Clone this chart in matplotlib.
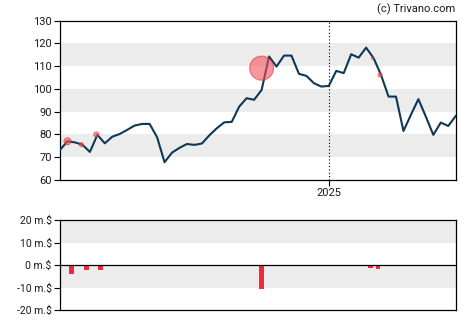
import numpy as np
import pandas as pd
import matplotlib
matplotlib.use('Agg')
import matplotlib.pyplot as plt
import matplotlib.dates as mdates

plt.rcParams['font.family'] = ['Roboto', 'DejaVu Sans']

# weekly closing prices
start = pd.Timestamp('2024-04-24')
prices = [73.2, 77.0, 76.5, 75.5, 72.3, 79.8, 76.1, 79.0, 80.2, 82.0,
          83.9, 84.6, 84.6, 78.8, 67.8, 72.0, 74.1, 75.8, 75.4, 76.0,
          79.6, 82.7, 85.3, 85.5, 92.2, 95.9, 95.2, 99.5, 114.2, 109.8,
          114.6, 114.6, 106.6, 105.7, 102.5, 101.0, 101.3, 107.9, 106.9, 115.2,
          113.7, 118.1, 113.5, 106.1, 96.6, 96.6, 81.5, 88.6, 95.5, 87.8,
          79.8, 85.2, 83.7, 88.1]
dates = pd.date_range(start, periods=len(prices), freq='7D')

# insider trades: marker on price chart
event_dates = pd.to_datetime(['2024-05-01', '2024-05-14', '2024-05-28',
                              '2024-10-30', '2025-02-11', '2025-02-18'])
event_prices = [77.0, 75.5, 80.0, 109.1, 113.5, 106.1]
event_radius = [3.5, 2.0, 2.5, 12.0, 1.0, 2.0]

# insider trades volume (m.$)
vol_dates = pd.to_datetime(['2024-05-05', '2024-05-19', '2024-06-01',
                            '2024-10-30', '2025-02-09', '2025-02-16'])
vol_values = [-3.75, -2.1, -2.1, -10.6, -1.2, -1.7]

price_ticks = [60, 70, 80, 90, 100, 110, 120, 130]
vol_ticks = [-20, -10, 0, 10, 20]

fig = plt.figure(figsize=(4.7, 3.25), dpi=100)
ax = fig.add_axes([0.1277, 0.4462, 0.8419, 0.4907])
ax2 = fig.add_axes([0.1277, 0.0462, 0.8419, 0.2760])

xmin, xmax = dates[0], dates[-1]
line_col = '#0e3856'
band_col = '#ececec'

# price panel
for lo in (70, 90, 110):
    ax.axhspan(lo, lo + 10, color=band_col, lw=0, zorder=0)
ax.plot(dates, prices, color=line_col, lw=1.5, zorder=3)
sizes = [(2 * r * 72 / 100) ** 2 for r in event_radius]
ax.scatter(event_dates, event_prices, s=sizes, color='#f0505c', alpha=0.6,
           edgecolors='#e8303c', linewidths=0.8, zorder=4)
ax.axvline(pd.Timestamp('2025-01-01'), color='black', ls=(0, (1, 2)), lw=0.8, zorder=2)
ax.set_xlim(xmin, xmax)
ax.set_ylim(60, 130)
ax.set_yticks(price_ticks)
ax.set_xticks([pd.Timestamp('2025-01-01')])
ax.xaxis.set_major_formatter(mdates.DateFormatter('%Y'))
ax.tick_params(axis='both', labelsize=8, length=4, width=0.8, colors='black',
               labelcolor='#1a1a1a', pad=2)
for s in ax.spines.values():
    s.set_linewidth(0.9)

# volume panel
for lo in (-10, 10):
    ax2.axhspan(lo, lo + 10, color=band_col, lw=0, zorder=0)
ax2.bar(vol_dates, vol_values, width=4.4, color='#ee2a3c', zorder=3)
ax2.axhline(0, color='black', lw=0.9, zorder=4)
ax2.set_xlim(xmin, xmax)
ax2.set_ylim(-20, 20)
ax2.set_yticks(vol_ticks)
ax2.set_yticklabels([f'{v} m.$' for v in vol_ticks])
ax2.set_xticks([])
ax2.tick_params(axis='y', labelsize=7.5, length=4, width=0.8, labelcolor='#1a1a1a', pad=2)
for s in ax2.spines.values():
    s.set_linewidth(0.9)

fig.text(0.969, 0.972, '(c) Trivano.com', ha='right', va='center', fontsize=8, color='#1a1a1a')

fig.savefig('out.png', dpi=100)
